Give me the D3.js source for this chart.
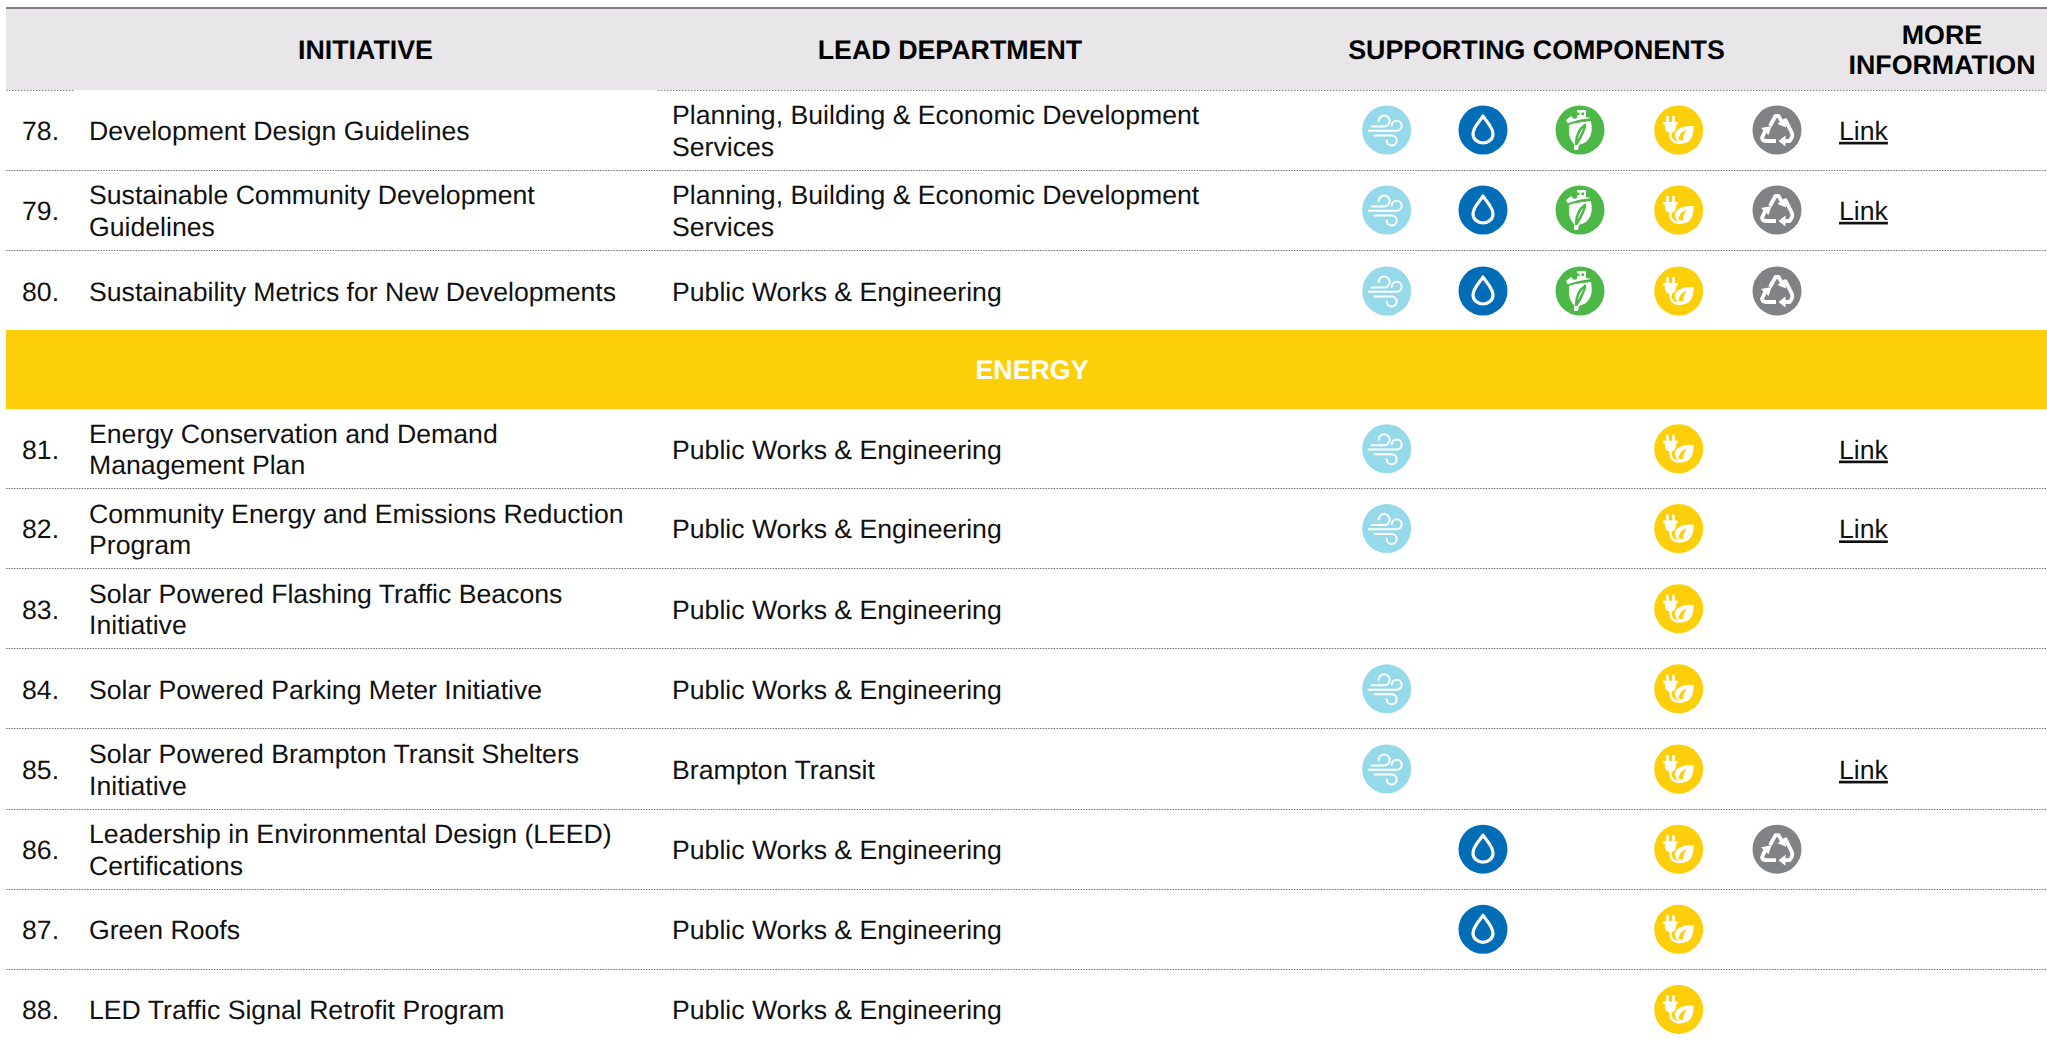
<!DOCTYPE html>
<html><head><meta charset="utf-8">
<script src="https://cdn.jsdelivr.net/npm/d3@7"></script>
<style>html,body{margin:0;padding:0;background:#fff}svg{display:block}text{font-family:"Liberation Sans",Arial,sans-serif;fill:#111;text-rendering:geometricPrecision}</style>
</head><body><svg id="c" width="2047" height="1042"></svg>
<script>
const components = ["air","water","land","energy","waste"];
const componentColors = ["#96d9ea","#006db6","#4db848","#fdcf0a","#808285"];
const numbers = ["78.","79.","80.",null,"81.","82.","83.","84.","85.","86.","87.","88."];
const initiatives = [
 ["Development Design Guidelines"],
 ["Sustainable Community Development","Guidelines"],
 ["Sustainability Metrics for New Developments"],
 null,
 ["Energy Conservation and Demand","Management Plan"],
 ["Community Energy and Emissions Reduction","Program"],
 ["Solar Powered Flashing Traffic Beacons","Initiative"],
 ["Solar Powered Parking Meter Initiative"],
 ["Solar Powered Brampton Transit Shelters","Initiative"],
 ["Leadership in Environmental Design (LEED)","Certifications"],
 ["Green Roofs"],
 ["LED Traffic Signal Retrofit Program"]];
const planning = ["Planning, Building & Economic Development","Services"];
const pw = ["Public Works & Engineering"];
const departments = [planning,planning,pw,null,pw,pw,pw,pw,["Brampton Transit"],pw,pw,pw];
const supports = [
 [1,1,1,1,1],[1,1,1,1,1],[1,1,1,1,1],null,
 [1,0,0,1,0],[1,0,0,1,0],[0,0,0,1,0],[1,0,0,1,0],[1,0,0,1,0],[0,1,0,1,1],[0,1,0,1,0],[0,0,0,1,0]];
const links = [1,1,0,null,1,1,0,0,1,0,0,0];

const svg = d3.select("#c");
const rowY = d3.scaleLinear().domain([0,3,4,5,12]).range([90,330,409,488.5,1049.5]);
const compX = d3.scaleOrdinal().domain(components).range([1386.7,1483,1580,1678.7,1777]);
const FS = 26.65, LH = 31.5, BL = 9.8;

// header
svg.append("rect").attr("x",6).attr("y",8).attr("width",2041).attr("height",82).attr("fill","#e8e6e9");
svg.append("rect").attr("x",6).attr("y",7).attr("width",2041).attr("height",2).attr("fill","#808080");
[["INITIATIVE",365.5,59],["LEAD DEPARTMENT",950,59],["SUPPORTING COMPONENTS",1536.5,59],["MORE",1942,44],["INFORMATION",1942,74]].forEach(h=>{
  svg.append("text").text(h[0]).attr("x",h[1]).attr("y",h[2]).attr("text-anchor","middle").attr("font-weight","bold").attr("font-size",26.8).style("fill","#000");
});

// band
svg.append("rect").attr("x",6).attr("y",rowY(3)).attr("width",2041).attr("height",rowY(4)-rowY(3)).attr("fill","#fdcf0a");
svg.append("text").text("ENERGY").attr("x",1032).attr("y",rowY(3)+49).attr("text-anchor","middle").attr("font-weight","bold").attr("font-size",26.8).style("fill","#fff");

// rules
const ruleRows=[1,2,5,6,7,8,9,10,11];
svg.selectAll("line.rule").data(ruleRows).join("line").attr("class","rule")
  .attr("x1",6).attr("x2",2047).attr("y1",d=>Math.floor(rowY(d))+.5).attr("y2",d=>Math.floor(rowY(d))+.5)
  .attr("stroke","#777").attr("stroke-width",1).attr("stroke-dasharray","1.5 1.2");
[[6,74],[658,1240],[1240,2047]].forEach(s=>{
  svg.append("line").attr("x1",s[0]).attr("x2",s[1]).attr("y1",90.5).attr("y2",90.5).attr("stroke","#888").attr("stroke-dasharray","1.5 1.5");
});

// white pictograms, drawn around the centre of each disc
function icon(g,name,color){
  const w = g.append("g").attr("fill","none").attr("stroke","#fff").attr("stroke-linecap","round").attr("stroke-linejoin","round");
  const f = d=>g.append("path").attr("fill","#fff").attr("d",d);
  if(name==="air"){
    w.attr("stroke-width",2);
    w.append("path").attr("d","M-15,-3.5 H-2.5 A5.5,5.5 0 1 0 -8,-9");
    w.append("path").attr("d","M-18,0.8 H10 A5,5 0 1 0 5,-4.2");
    w.append("path").attr("d","M-12,5.5 H5 A5,5 0 1 1 0,10.5");
  } else if(name==="water"){
    w.attr("stroke-width",3.2);
    w.append("path").attr("d","M0,-14 C3,-9 10,-3 10,4 C10,9.5 5,13 0,13 C-5,13 -10,9.5 -10,4 C-10,-3 -3,-9 0,-14 Z");
  } else if(name==="land"){
    f("M-11,-5 C-5,-8 3,-8 11,-9 C12,-2 13,4 7,11 C4,14 0,14 -1,15 L-2,20 L-6,20 L-6,14 C-12,8 -11,1 -11,-5 Z");
    f("M-14,-10 L-9,-14 L-6,-11 L-3,-12 L-3,-20 L6,-20 L6,-13 L11,-12 C4,-11 -4,-10 -9,-7 L-12,-6 Z");
    g.append("path").attr("fill",color).attr("d","M-3,-17.5 h2.5 v2.5 h-2.5 Z M1.5,-17.5 h2.5 v2.5 h-2.5 Z");
    g.append("path").attr("fill","none").attr("stroke",color).attr("stroke-width",1.8).attr("d","M-13,-5.5 C-6,-9 4,-8.5 12,-10.5");
    g.append("path").attr("fill","none").attr("stroke",color).attr("stroke-width",2.6).attr("d","M-4,15 C-4,7 -1,-1 5,-5 C6,-4 3,2 1,6 C0,9 -2,11 -4,15");
  } else if(name==="energy"){
    f("M-12.5,-14 h2.6 v6 h-2.6 Z M-6.5,-14 h2.6 v6 h-2.6 Z M-15.5,-8 h14.5 v2.6 h-1.6 v2.4 c0,3 -2,5.4 -4.2,5.6 h-2.8 c-2.4,-.2 -4.2,-2.6 -4.2,-5.6 v-2.4 h-1.7 Z");
    w.attr("stroke-width",2.5);
    w.append("path").attr("d","M-8,2 C-9,7 -7,11.5 -2,12.5 C2,13.3 5,12.5 7,11");
    f("M15,-4 C9,-4 1,-4 -3,2 C-6,7 -1,13 5,13 C11,13 15,7 15,-4 Z");
    g.append("path").attr("fill",color).attr("d","M0,10 C0,5 3,1 8,0 C6,3 4,6 4.5,10.5 Z");
  } else {
    w.attr("stroke-width",3.8).attr("stroke-linecap","butt");
    w.append("path").attr("d","M-7,-4 L-1.5,-14 H1.5 L5,-8");
    f("M9,-2.5 L0.5,-6 L8,-12 Z");
    w.append("path").attr("d","M8,-11 L15,3 Q16,6 14,9 L12.5,11 H7");
    f("M1.5,11 L8.5,5.5 L8.5,16.5 Z");
    w.append("path").attr("d","M-1,11 H-11 Q-14.5,11 -15,8 L-11.5,0");
    f("M-16,-2 L-5.5,-4 L-8.5,5 Z");
  }
}

numbers.forEach((n,i)=>{
  if(n===null) return;
  const cy = (rowY(i)+rowY(i+1))/2 + (i===2?1:0);
  svg.append("text").text(n).attr("x",22).attr("y",cy+BL).attr("font-size",FS);
  const block=(lines,x)=>{
    const top = cy+BL-(lines.length-1)*LH/2;
    lines.forEach((l,k)=>svg.append("text").text(l).attr("x",x).attr("y",top+k*LH).attr("font-size",FS));
  };
  block(initiatives[i],89);
  block(departments[i],672);
  components.forEach((c,k)=>{
    if(!supports[i][k]) return;
    const g=svg.append("g").attr("transform",`translate(${compX(c)},${cy})`);
    g.append("circle").attr("r",24.5).attr("fill",componentColors[k]);
    icon(g,c,componentColors[k]);
  });
  if(links[i]){
    svg.append("text").text("Link").attr("x",1839).attr("y",cy+BL).attr("font-size",FS).attr("text-decoration","underline");
  }
});
</script></body></html>
